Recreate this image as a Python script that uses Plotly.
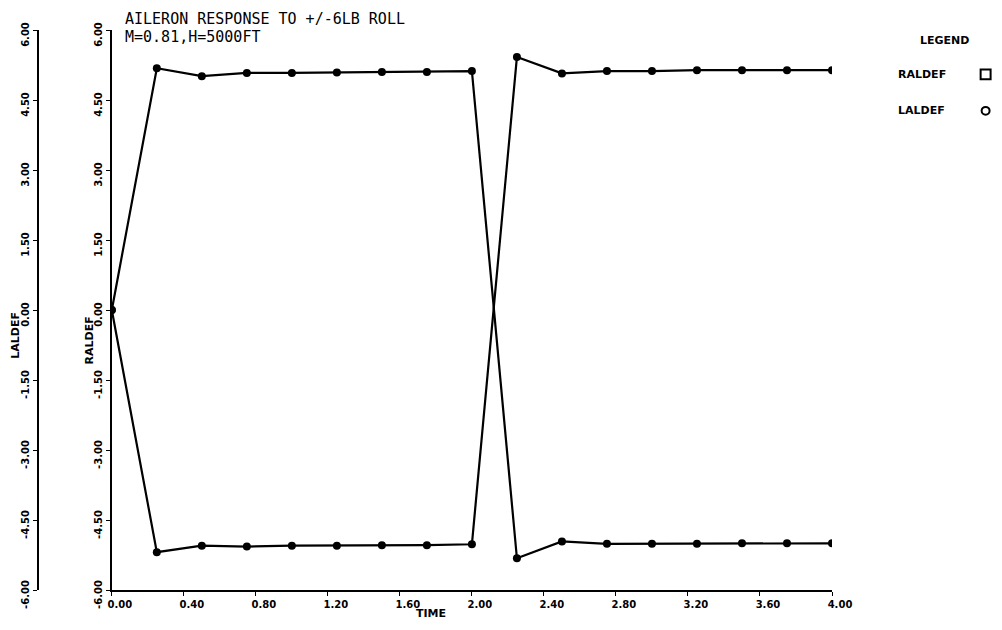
import plotly.graph_objects as go

# ---- data ----
time = [0.0, 0.25, 0.5, 0.75, 1.0, 1.25, 1.5, 1.75, 2.0,
        2.25, 2.5, 2.75, 3.0, 3.25, 3.5, 3.75, 4.0]
raldef = [0.0, 5.18, 5.01, 5.08, 5.08, 5.09, 5.10, 5.10, 5.12,
          -5.32, -4.96, -5.01, -5.01, -5.01, -5.00, -5.00, -5.00]
laldef = [0.0, -5.19, -5.05, -5.07, -5.05, -5.05, -5.04, -5.04, -5.02,
          5.42, 5.07, 5.12, 5.12, 5.14, 5.14, 5.14, 5.14]

x_ticks = [0.0, 0.4, 0.8, 1.2, 1.6, 2.0, 2.4, 2.8, 3.2, 3.6, 4.0]
x_ticklabels = ["0.00", "0.40", "0.80", "1.20", "1.60", "2.00",
                "2.40", "2.80", "3.20", "3.60", "4.00"]
y_ticks = [-6.0, -4.5, -3.0, -1.5, 0.0, 1.5, 3.0, 4.5, 6.0]
y_ticklabels = ["-6.00", "-4.50", "-3.00", "-1.50", "0.00",
                "1.50", "3.00", "4.50", "6.00"]

title_line1 = "AILERON RESPONSE TO +/-6LB ROLL"
title_line2 = "M=0.81,H=5000FT"

# ---- layout geometry (pixels, page coordinates; body has 8px margin) ----
OFF = 8
W, H = 1002 - 2 * OFF, 630 - 2 * OFF
AX_LEFT, AX_X0, AX_RIGHT = 36, 110, 832   # page px
AX_TOP, AX_BOTTOM = 30, 598               # page px
ML = AX_LEFT - OFF
MR = W - (AX_RIGHT - OFF)
MT = AX_TOP - OFF
MB = H - (AX_BOTTOM - OFF)
PW = W - ML - MR
PH = H - MT - MB


def px(xp):
    return (xp - OFF - ML) / PW


def py(yp):
    return (H - MB - (yp - OFF)) / PH


FONT = "DejaVu Sans"
MONO = "DejaVu Sans Mono"

fig = go.Figure()
fig.add_trace(go.Scatter(
    x=time, y=raldef, mode="lines+markers", name="RALDEF",
    line=dict(color="black", width=2.2),
    marker=dict(color="black", size=8, symbol="circle"),
    xaxis="x", yaxis="y", showlegend=False))
fig.add_trace(go.Scatter(
    x=time, y=laldef, mode="lines+markers", name="LALDEF",
    line=dict(color="black", width=2.2),
    marker=dict(color="black", size=8, symbol="circle"),
    xaxis="x", yaxis="y2", showlegend=False))

tickfont = dict(family=FONT, size=10, color="black", weight="bold")

fig.update_layout(
    width=W, height=H,
    margin=dict(l=ML, r=MR, t=MT, b=MB),
    paper_bgcolor="white", plot_bgcolor="white",
    showlegend=False,
    xaxis=dict(domain=[px(AX_X0), 1.0], range=[0, 4], tickvals=x_ticks,
               ticktext=x_ticklabels, showgrid=False, zeroline=False,
               showline=True, linecolor="black", linewidth=2,
               ticks="outside", ticklen=4, tickcolor="black",
               tickfont=tickfont, anchor="y", ticklabelshift=8),
    yaxis=dict(range=[-6, 6], tickvals=y_ticks, ticktext=y_ticklabels,
               showgrid=False, zeroline=False, showline=True,
               linecolor="black", linewidth=2, ticks="outside", ticklen=4,
               tickcolor="black", tickangle=-90, tickfont=tickfont,
               anchor="x", ticklabelshift=6),
    yaxis2=dict(range=[-6, 6], tickvals=y_ticks, ticktext=y_ticklabels,
                overlaying="y", anchor="free", position=0.0, side="left",
                showgrid=False, zeroline=False, showline=True,
                linecolor="black", linewidth=2, ticks="outside", ticklen=4,
                tickcolor="black", tickangle=-90, tickfont=tickfont,
                ticklabelshift=6),
)


def note(text, x, y, size, family=FONT, bold=True, xanchor="center",
         angle=0):
    f = dict(family=family, size=size, color="black")
    if bold:
        f["weight"] = "bold"
    return dict(text=text, x=px(x), y=py(y), xref="paper", yref="paper",
                xanchor=xanchor, yanchor="middle", textangle=angle,
                showarrow=False, font=f)


ann = [
    note(title_line1, 121, 19, 15, family=MONO, bold=False, xanchor="left"),
    note(title_line2, 121, 37, 15, family=MONO, bold=False, xanchor="left"),
    note("TIME", 430, 622, 11),
    note("LALDEF", 14, 340, 11, angle=-90),
    note("RALDEF", 88, 345, 11, angle=-90),
    note("LEGEND", 945, 41, 11),
    note("RALDEF", 896, 75, 11, xanchor="left"),
    note("LALDEF", 896, 112, 11, xanchor="left"),
]
fig.update_layout(annotations=ann)

shapes = [
    dict(type="rect", xref="paper", yref="paper",
         x0=px(981), x1=px(991), y0=py(80), y1=py(70),
         line=dict(color="black", width=2)),
    dict(type="circle", xref="paper", yref="paper",
         x0=px(982), x1=px(990), y0=py(116), y1=py(108),
         line=dict(color="black", width=2)),
]
fig.update_layout(shapes=shapes)

fig.write_html("out.html")
